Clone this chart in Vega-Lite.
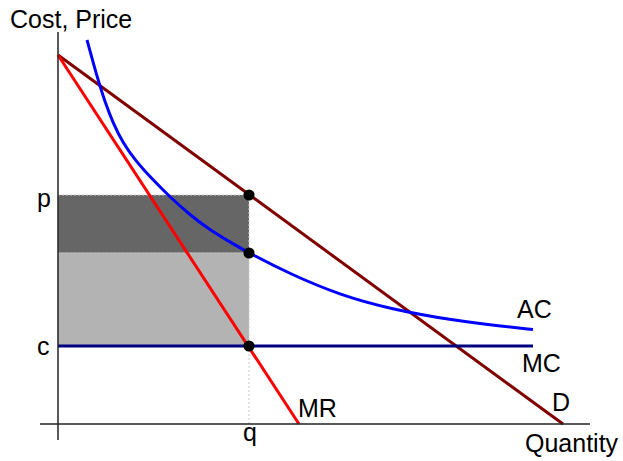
{
  "$schema": "https://vega.github.io/schema/vega-lite/v6.json",
  "width": 623,
  "height": 461,
  "padding": 0,
  "autosize": {"type": "none"},
  "background": "white",
  "config": {"view": {"stroke": null}},
  "datasets": {
    "areas": [
      {"name": "profit", "x1": 0, "x2": 191, "y1": 171, "y2": 229},
      {"name": "cost", "x1": 0, "x2": 191, "y1": 78, "y2": 171}
    ],
    "guides": [
      {"x1": 191, "x2": 191, "y1": 0, "y2": 78}
    ],
    "curves": [
      {"series": "D", "x": 0, "y": 369},
      {"series": "D", "x": 505, "y": 0},
      {"series": "MR", "x": 0, "y": 369},
      {"series": "MR", "x": 241, "y": 0},
      {"series": "MC", "x": 0, "y": 78},
      {"series": "MC", "x": 475, "y": 78}
    ],
    "ac": [
      {"series": "AC", "x": 29, "y": 384},
      {"series": "AC", "x": 35, "y": 362},
      {"series": "AC", "x": 41, "y": 341},
      {"series": "AC", "x": 47, "y": 322},
      {"series": "AC", "x": 55, "y": 301},
      {"series": "AC", "x": 65, "y": 281},
      {"series": "AC", "x": 77, "y": 264},
      {"series": "AC", "x": 94, "y": 245},
      {"series": "AC", "x": 112, "y": 227},
      {"series": "AC", "x": 132, "y": 209},
      {"series": "AC", "x": 152, "y": 194},
      {"series": "AC", "x": 172, "y": 182},
      {"series": "AC", "x": 191, "y": 171},
      {"series": "AC", "x": 232, "y": 150},
      {"series": "AC", "x": 282, "y": 129},
      {"series": "AC", "x": 332, "y": 115},
      {"series": "AC", "x": 399, "y": 103},
      {"series": "AC", "x": 442, "y": 98},
      {"series": "AC", "x": 475, "y": 94.5}
    ],
    "axes": [
      {"x1": 0, "x2": 0, "y1": -16, "y2": 392},
      {"x1": -18, "x2": 532, "y1": 0, "y2": 0}
    ],
    "dots": [
      {"x": 191, "y": 229},
      {"x": 191, "y": 171},
      {"x": 191, "y": 78}
    ],
    "labels": [
      {"label": "Cost, Price", "x": -48, "y": 396},
      {"label": "p", "x": -21, "y": 217},
      {"label": "c", "x": -21, "y": 69},
      {"label": "q", "x": 185, "y": -17},
      {"label": "Quantity", "x": 467, "y": -28},
      {"label": "MR", "x": 240, "y": 7},
      {"label": "D", "x": 494, "y": 13},
      {"label": "AC", "x": 459, "y": 106},
      {"label": "MC", "x": 464, "y": 52}
    ]
  },
  "layer": [
    {
      "data": {"name": "areas"},
      "mark": {"type": "rect", "stroke": "#c8c8c8", "strokeWidth": 1, "strokeDash": [2, 2]},
      "encoding": {
        "x": {"field": "x1", "type": "quantitative", "scale": {"domain": [-58, 565], "nice": false, "zero": false}, "axis": null},
        "x2": {"field": "x2"},
        "y": {"field": "y1", "type": "quantitative", "scale": {"domain": [-37, 424], "nice": false, "zero": false}, "axis": null},
        "y2": {"field": "y2"},
        "fill": {"field": "name", "type": "nominal", "scale": {"domain": ["profit", "cost"], "range": ["#666666", "#b3b3b3"]}, "legend": null}
      }
    },
    {
      "data": {"name": "guides"},
      "mark": {"type": "rule", "stroke": "#c8c8c8", "strokeWidth": 1, "strokeDash": [2, 2]},
      "encoding": {
        "x": {"field": "x1", "type": "quantitative"},
        "x2": {"field": "x2"},
        "y": {"field": "y1", "type": "quantitative"},
        "y2": {"field": "y2"}
      }
    },
    {
      "data": {"name": "curves"},
      "mark": {"type": "line", "strokeWidth": 3},
      "encoding": {
        "x": {"field": "x", "type": "quantitative"},
        "y": {"field": "y", "type": "quantitative"},
        "color": {"field": "series", "type": "nominal", "scale": {"domain": ["D", "MR", "MC", "AC"], "range": ["#800000", "#ff0000", "#000080", "#0000ff"]}, "legend": null},
        "order": {"field": "x", "type": "quantitative"}
      }
    },
    {
      "data": {"name": "ac"},
      "mark": {"type": "line", "strokeWidth": 3, "interpolate": "basis", "color": "#0000ff"},
      "encoding": {
        "x": {"field": "x", "type": "quantitative"},
        "y": {"field": "y", "type": "quantitative"},
        "order": {"field": "x", "type": "quantitative"}
      }
    },
    {
      "data": {"name": "axes"},
      "mark": {"type": "rule", "stroke": "#222222", "strokeWidth": 1.5},
      "encoding": {
        "x": {"field": "x1", "type": "quantitative"},
        "x2": {"field": "x2"},
        "y": {"field": "y1", "type": "quantitative"},
        "y2": {"field": "y2"}
      }
    },
    {
      "data": {"name": "dots"},
      "mark": {"type": "point", "filled": true, "color": "black", "opacity": 1, "size": 125},
      "encoding": {
        "x": {"field": "x", "type": "quantitative"},
        "y": {"field": "y", "type": "quantitative"}
      }
    },
    {
      "data": {"name": "labels"},
      "mark": {"type": "text", "align": "left", "baseline": "alphabetic", "font": "Liberation Sans", "fontSize": 25, "color": "black"},
      "encoding": {
        "x": {"field": "x", "type": "quantitative"},
        "y": {"field": "y", "type": "quantitative"},
        "text": {"field": "label", "type": "nominal"}
      }
    }
  ]
}
